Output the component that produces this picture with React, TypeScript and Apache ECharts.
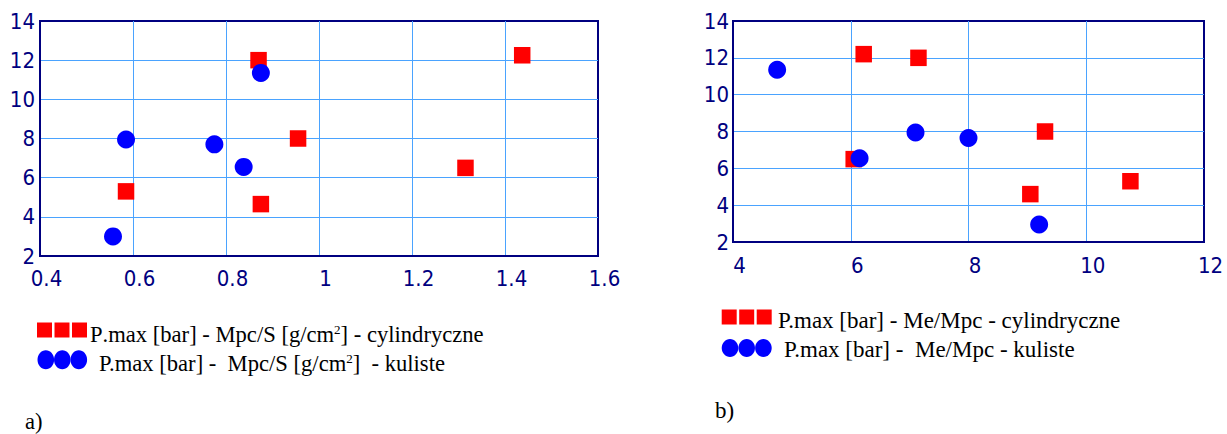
import React, { useEffect, useRef } from "react";
import * as echarts from "echarts";

// Chart a): P.max [bar] vs Mpc/S [g/cm2]
const leftCylindryczne: [number, number][] = [
  [0.87, 12.0],
  [0.955, 8.0],
  [0.585, 5.3],
  [0.875, 4.65],
  [1.437, 12.25],
  [1.315, 6.5],
];
const leftKuliste: [number, number][] = [
  [0.875, 11.35],
  [0.585, 7.95],
  [0.775, 7.7],
  [0.838, 6.55],
  [0.557, 3.0],
];

// Chart b): P.max [bar] vs Me/Mpc
const rightCylindryczne: [number, number][] = [
  [6.22, 12.2],
  [7.15, 12.0],
  [6.05, 6.5],
  [9.3, 8.0],
  [9.05, 4.6],
  [10.75, 5.3],
];
const rightKuliste: [number, number][] = [
  [4.75, 11.35],
  [6.15, 6.55],
  [7.1, 7.95],
  [8.0, 7.65],
  [9.2, 2.95],
];

// Axis ranges
const leftX = { min: 0.4, max: 1.6, interval: 0.2 };
const rightX = { min: 4, max: 12, interval: 2 };
const yRange = { min: 2, max: 14, interval: 2 };

const NAVY = "#000080";
const GRID_BLUE = "#4aa3ff";
const RED = "#ff0000";
const BLUE = "#0000ff";
const AXIS_FONT = "DejaVu Sans Condensed, DejaVu Sans, sans-serif";
const SERIF = "Liberation Serif, Times New Roman, serif";

function axisLabel(margin: number, horizontal: boolean) {
  return {
    color: NAVY,
    fontFamily: AXIS_FONT,
    fontSize: 22,
    margin,
    padding: horizontal ? [0, 0, 0, 13] : [6, 0, 0, 0],
    formatter: (v: number) => String(Math.round(v * 10) / 10),
  };
}

function xAxisCfg(grid: number, r: { min: number; max: number; interval: number }, margin: number) {
  return {
    type: "value",
    gridIndex: grid,
    min: r.min,
    max: r.max,
    interval: r.interval,
    axisLine: { show: true, onZero: false, lineStyle: { color: NAVY, width: 2 } },
    axisTick: { show: false },
    axisLabel: axisLabel(margin, true),
    splitLine: { show: true, showMinLine: false, showMaxLine: false, lineStyle: { color: GRID_BLUE, width: 1 } },
  };
}

function yAxisCfg(grid: number, margin: number) {
  return {
    type: "value",
    gridIndex: grid,
    min: yRange.min,
    max: yRange.max,
    interval: yRange.interval,
    axisLine: { show: true, onZero: false, lineStyle: { color: NAVY, width: 2 } },
    axisTick: { show: false },
    axisLabel: axisLabel(margin, false),
    splitLine: { show: true, showMinLine: false, showMaxLine: false, lineStyle: { color: GRID_BLUE, width: 1 } },
  };
}

const LEG_LEFT = 22.6;
const LEG_RIGHT = 23;

const richBase = {
  n: { fontFamily: SERIF, fontSize: LEG_LEFT, lineHeight: 24, color: "#000" },
  p: { fontFamily: SERIF, fontSize: LEG_LEFT, lineHeight: 24, color: NAVY },
  sup: { fontFamily: SERIF, fontSize: 13, lineHeight: 24, color: "#000", verticalAlign: "top", padding: [1, 0, 0, 0] },
};

function squares(x0: number, cy: number, size: number, gap: number) {
  return [0, 1, 2].map((i) => ({
    type: "rect",
    shape: { x: x0 + i * (size + gap), y: cy - size / 2, width: size, height: size },
    style: { fill: RED },
  }));
}
function circles(x0: number, cy: number, rx: number, ry: number, step: number) {
  return [0, 1, 2].map((i) => ({
    type: "ellipse",
    shape: { cx: x0 + rx + i * step, cy, rx, ry },
    style: { fill: BLUE },
  }));
}

function textEl(x: number, y: number, text: string, size: number, rich?: boolean) {
  return {
    type: "text",
    x,
    y,
    style: rich
      ? { text, rich: richBase, align: "left", verticalAlign: "middle", fontFamily: SERIF, fontSize: size }
      : { text, fontFamily: SERIF, fontSize: size, fill: "#000", align: "left", verticalAlign: "middle" },
  };
}

export default function App() {
  const ref = useRef<HTMLDivElement>(null);
  useEffect(() => {
    document.body.style.margin = "0";
    if (!ref.current) return;
    const chart = echarts.init(ref.current, undefined, { renderer: "svg" });
    chart.setOption({
      animation: false,
      backgroundColor: "#ffffff",
      grid: [
        { left: 40, top: 21, width: 558, height: 235, show: true, borderColor: NAVY, borderWidth: 2, backgroundColor: "transparent" },
        { left: 733, top: 21, width: 471, height: 221, show: true, borderColor: NAVY, borderWidth: 2, backgroundColor: "transparent" },
      ],
      xAxis: [xAxisCfg(0, leftX, 11), xAxisCfg(1, rightX, 12)],
      yAxis: [yAxisCfg(0, 5), yAxisCfg(1, 4)],
      series: [
        {
          name: "P.max [bar] - Mpc/S [g/cm2] - cylindryczne",
          type: "scatter",
          xAxisIndex: 0,
          yAxisIndex: 0,
          symbol: "rect",
          symbolSize: 16.5,
          itemStyle: { color: RED, opacity: 1 },
          data: leftCylindryczne,
        },
        {
          name: "P.max [bar] - Mpc/S [g/cm2] - kuliste",
          type: "scatter",
          xAxisIndex: 0,
          yAxisIndex: 0,
          symbol: "circle",
          symbolSize: 18,
          itemStyle: { color: BLUE, opacity: 1 },
          data: leftKuliste,
        },
        {
          name: "P.max [bar] - Me/Mpc - cylindryczne",
          type: "scatter",
          xAxisIndex: 1,
          yAxisIndex: 1,
          symbol: "rect",
          symbolSize: 16.5,
          itemStyle: { color: RED, opacity: 1 },
          data: rightCylindryczne,
        },
        {
          name: "P.max [bar] - Me/Mpc - kuliste",
          type: "scatter",
          xAxisIndex: 1,
          yAxisIndex: 1,
          symbol: "circle",
          symbolSize: 18,
          itemStyle: { color: BLUE, opacity: 1 },
          data: rightKuliste,
        },
      ],
      graphic: [
        ...squares(37, 330, 15, 2.5),
        ...circles(37.5, 359.7, 8.3, 9.5, 16.5),
        textEl(90, 334.3, "{p|P}{n|.max [bar] - Mpc/S [g/cm}{sup|2}{n|] - cylindryczne}", LEG_LEFT, true),
        textEl(99, 363.3, "{n|P.max [bar] -  Mpc/S [g/cm}{sup|2}{n|]  - kuliste}", LEG_LEFT, true),
        textEl(25, 421, "a)", LEG_LEFT),
        ...squares(721.7, 317, 15, 2.5),
        ...circles(721.7, 348, 8.3, 9, 16.7),
        textEl(778, 320.3, "P.max [bar] - Me/Mpc - cylindryczne", LEG_RIGHT),
        textEl(784, 349.3, "P.max [bar] -  Me/Mpc - kuliste", LEG_RIGHT),
        textEl(715, 410.6, "b)", LEG_RIGHT),
      ],
    });
    return () => chart.dispose();
  }, []);
  return <div ref={ref} style={{ width: 1227, height: 434 }} />;
}
